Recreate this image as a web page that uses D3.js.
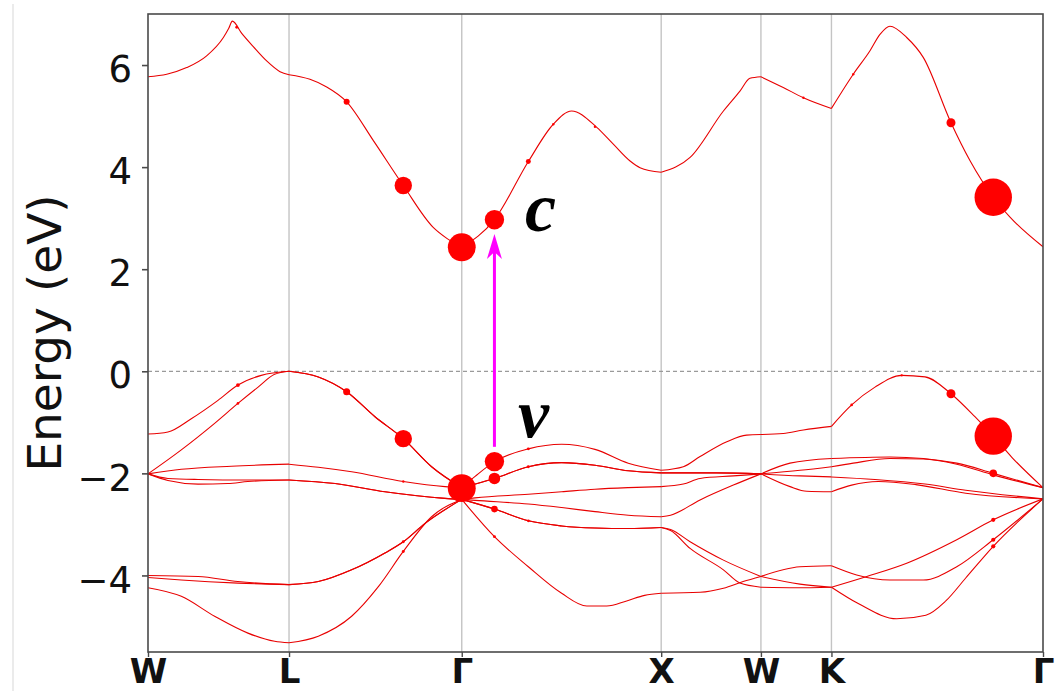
<!DOCTYPE html>
<html>
<head>
<meta charset="utf-8">
<script src="https://cdn.jsdelivr.net/npm/d3@7"></script>
<style>
  html, body { margin: 0; padding: 0; background: #fff; }
  svg { display: block; }
</style>
</head>
<body>
<svg id="chart" width="1057" height="691"></svg>
<script>
// High-symmetry points of the FCC path; k is the cumulative path length in 2π/a
const kLabels = ["W", "L", "Γ", "X", "W", "K", "Γ"];
const kTicks = [0, 0.7071, 1.5731, 2.5731, 3.0731, 3.4267, 4.4874];
const energyTicks = [-4, -2, 0, 2, 4, 6];
const energyRange = [-5.5, 7.0];

// Bands as [k, E (eV)] samples
const conductionBand = [
  [0, 5.77], [0.094, 5.82], [0.194, 5.95], [0.294, 6.18], [0.378, 6.54], [0.405, 6.72], [0.423, 6.86], [0.470, 6.62], [0.528, 6.36], [0.595, 6.08], [0.662, 5.87], [0.7071, 5.81],
  [0.812, 5.72], [0.896, 5.57], [0.996, 5.28], [1.130, 4.52], [1.280, 3.64], [1.430, 2.82], [1.500, 2.60], [1.5731, 2.43],
  [1.737, 2.97], [1.907, 4.11], [2.032, 4.84], [2.124, 5.10], [2.250, 4.78], [2.333, 4.45], [2.417, 4.12], [2.467, 3.99], [2.5731, 3.90],
  [2.718, 4.19], [2.885, 5.10], [2.968, 5.49], [3.018, 5.74], [3.0731, 5.77],
  [3.185, 5.56], [3.286, 5.36], [3.4267, 5.15],
  [3.536, 5.82], [3.620, 6.28], [3.670, 6.60], [3.720, 6.76], [3.804, 6.54], [3.887, 6.15], [4.026, 4.87], [4.121, 4.13], [4.238, 3.41], [4.322, 3.02], [4.4874, 2.44]
];
const valence1 = [
  [0, -1.23], [0.100, -1.19], [0.217, -0.93], [0.351, -0.57], [0.451, -0.27], [0.568, -0.08], [0.7071, 0],
  [0.854, -0.11], [0.996, -0.40], [1.138, -0.89], [1.280, -1.32], [1.422, -1.87], [1.5731, -2.28],
  [1.640, -2.06], [1.737, -1.77], [1.907, -1.52], [2.074, -1.43], [2.241, -1.53], [2.408, -1.80], [2.5731, -1.94],
  [2.684, -1.87], [2.768, -1.67], [2.902, -1.38], [3.001, -1.25], [3.0731, -1.24],
  [3.185, -1.22], [3.286, -1.15], [3.4267, -1.08],
  [3.528, -0.66], [3.645, -0.31], [3.779, -0.08], [3.896, -0.11], [4.026, -0.44], [4.146, -0.89], [4.238, -1.27], [4.330, -1.68], [4.4874, -2.28]
];
const valence2 = [
  [0, -2.01], [0.167, -1.54], [0.334, -1.02], [0.451, -0.63], [0.552, -0.31], [0.635, -0.06], [0.7071, 0],
  [0.854, -0.11], [0.996, -0.40], [1.138, -0.89], [1.280, -1.32], [1.422, -1.87], [1.5731, -2.28],
  [1.737, -2.10], [1.907, -1.87], [2.074, -1.79], [2.241, -1.84], [2.408, -1.95], [2.5731, -1.99],
  [2.851, -1.99], [3.0731, -2.01],
  [3.219, -1.80], [3.4267, -1.71],
  [3.720, -1.68], [4.055, -1.80], [4.238, -2.00], [4.4874, -2.28]
];
const valence3 = [
  [0, -2.01], [0.167, -1.92], [0.418, -1.86], [0.7071, -1.82],
  [0.854, -1.88], [1.021, -1.97], [1.280, -2.16], [1.489, -2.26], [1.5731, -2.28],
  [1.737, -2.10], [1.907, -1.87], [2.074, -1.79], [2.241, -1.84], [2.408, -1.95], [2.5731, -1.99],
  [2.851, -1.99], [3.0731, -2.01],
  [3.269, -1.94], [3.4267, -1.87],
  [3.536, -1.80], [3.720, -1.71], [3.887, -1.72], [4.055, -1.82], [4.238, -2.03], [4.4874, -2.28]
];
const valence4 = [
  [0, -2.01], [0.100, -2.10], [0.251, -2.12], [0.501, -2.13], [0.7071, -2.13],
  [0.938, -2.20], [1.188, -2.36], [1.489, -2.49], [1.5731, -2.51],
  [1.640, -2.48], [1.907, -2.41], [2.074, -2.36], [2.241, -2.31], [2.408, -2.28], [2.5731, -2.26],
  [2.684, -2.21], [2.768, -2.10], [2.935, -2.05], [3.0731, -2.01],
  [3.269, -2.05], [3.4267, -2.07],
  [3.645, -2.12], [3.896, -2.21], [4.100, -2.33], [4.4874, -2.50]
];
const valence5 = [
  [0, -2.01], [0.100, -2.14], [0.251, -2.21], [0.400, -2.20], [0.501, -2.16], [0.7071, -2.13],
  [0.938, -2.20], [1.188, -2.36], [1.489, -2.49], [1.5731, -2.51],
  [1.640, -2.53], [1.907, -2.60], [2.074, -2.67], [2.241, -2.75], [2.408, -2.82], [2.5731, -2.85],
  [2.620, -2.82], [2.768, -2.52], [2.935, -2.23], [3.0731, -2.01],
  [3.219, -2.26], [3.303, -2.35], [3.4267, -2.36],
  [3.528, -2.23], [3.662, -2.16], [3.850, -2.22], [4.100, -2.39], [4.4874, -2.50]
];
const valence6 = [
  [0, -4.00], [0.251, -4.02], [0.451, -4.12], [0.7071, -4.18],
  [0.854, -4.12], [1.021, -3.89], [1.188, -3.56], [1.280, -3.34], [1.389, -2.98], [1.5731, -2.51],
  [1.737, -2.70], [1.907, -2.93], [2.074, -3.03], [2.241, -3.07], [2.408, -3.08], [2.5731, -3.06],
  [2.620, -3.10], [2.718, -3.34], [2.885, -3.70], [3.0731, -4.02],
  [3.269, -4.17], [3.4267, -4.23],
  [3.561, -4.55], [3.754, -4.85], [3.900, -4.78], [4.000, -4.50], [4.100, -4.05], [4.238, -3.43], [4.4874, -2.50]
];
const valence7 = [
  [0, -4.04], [0.167, -4.09], [0.451, -4.15], [0.7071, -4.18],
  [0.854, -4.12], [1.021, -3.89], [1.188, -3.56], [1.280, -3.34], [1.389, -2.98], [1.5731, -2.51],
  [1.737, -2.70], [1.907, -2.93], [2.074, -3.03], [2.241, -3.07], [2.408, -3.08], [2.5731, -3.06],
  [2.620, -3.12], [2.718, -3.47], [2.885, -3.89], [2.968, -4.15], [3.0731, -4.23],
  [3.250, -4.24], [3.4267, -4.23],
  [3.604, -4.02], [3.804, -3.76], [4.055, -3.30], [4.238, -2.91], [4.4874, -2.50]
];
const valence8 = [
  [0, -4.24], [0.167, -4.41], [0.334, -4.80], [0.501, -5.13], [0.635, -5.29], [0.7071, -5.32],
  [0.854, -5.19], [1.021, -4.80], [1.155, -4.22], [1.280, -3.53], [1.422, -2.85], [1.5731, -2.51],
  [1.737, -3.24], [1.907, -3.83], [2.074, -4.35], [2.200, -4.60], [2.300, -4.60], [2.400, -4.50], [2.490, -4.39], [2.5731, -4.35],
  [2.768, -4.33], [2.885, -4.25], [2.984, -4.12], [3.0731, -4.02],
  [3.269, -3.83], [3.4267, -3.81],
  [3.553, -3.99], [3.720, -4.09], [3.887, -4.09], [4.055, -3.83], [4.238, -3.30], [4.4874, -2.50]
];
const bands = [conductionBand, valence1, valence2, valence3, valence4, valence5, valence6, valence7, valence8];

// Projected weights on the bands: [k, E, weight]
const weights = [
  [0.445, 6.74, 0.006], [0.996, 5.28, 0.025], [1.280, 3.64, 0.21], [1.5731, 2.43, 0.54], [1.737, 2.97, 0.26],
  [1.907, 4.11, 0.017], [2.032, 4.84, 0.003], [2.241, 4.79, 0.003], [3.286, 5.36, 0.003], [3.536, 5.82, 0.004],
  [4.026, 4.87, 0.056], [4.238, 3.41, 0.97],
  [0.451, -0.27, 0.010], [0.451, -0.63, 0.005], [0.996, -0.40, 0.034], [1.280, -1.32, 0.21], [1.5731, -2.29, 0.54],
  [1.737, -1.77, 0.26], [1.737, -2.10, 0.093], [1.737, -2.70, 0.030], [1.737, -3.24, 0.006],
  [1.907, -1.52, 0.006], [1.907, -1.87, 0.006], [1.907, -2.93, 0.005], [1.280, -2.16, 0.003],
  [1.280, -3.34, 0.006], [1.280, -3.53, 0.006],
  [3.528, -0.66, 0.005], [3.779, -0.08, 0.003], [4.026, -0.44, 0.056], [4.238, -1.27, 0.97],
  [4.238, -2.00, 0.040], [4.238, -2.91, 0.012], [4.238, -3.30, 0.012], [4.238, -3.43, 0.012]
];

// Optical transition v → c drawn as an arrow at fixed k
const transitionK = 1.737;
const transitionE = [-1.48, 2.69];
const stateLabels = [
  { text: "c", k: 1.890, E: 2.74 },
  { text: "v", k: 1.855, E: -1.29 }
];

const svg = d3.select("#chart");
const area = { left: 148, top: 14, right: 1043, bottom: 652 };

const x = d3.scaleLinear().domain([kTicks[0], kTicks[kTicks.length - 1]]).range([area.left, area.right]);
const y = d3.scaleLinear().domain(energyRange).range([area.bottom, area.top]);
const radius = d3.scaleSqrt().domain([0, 1]).range([0, 19]);

// faint outer edge of the figure
svg.append("line").attr("x1", 13).attr("x2", 13).attr("y1", 4).attr("y2", 691)
  .attr("stroke", "#e4e4e4").attr("stroke-width", 1.5);

svg.append("defs").append("clipPath").attr("id", "plotClip")
  .append("rect").attr("x", area.left).attr("y", area.top)
  .attr("width", area.right - area.left).attr("height", area.bottom - area.top);

const plot = svg.append("g").attr("clip-path", "url(#plotClip)");

// vertical separators at the interior high-symmetry points
plot.selectAll("line.kline").data(kTicks.slice(1, -1)).join("line")
  .attr("class", "kline")
  .attr("x1", d => x(d)).attr("x2", d => x(d))
  .attr("y1", area.top).attr("y2", area.bottom)
  .attr("stroke", "#c4c4c4").attr("stroke-width", 1.4);

// Fermi level
plot.append("line")
  .attr("x1", area.left).attr("x2", area.right)
  .attr("y1", y(0)).attr("y2", y(0))
  .attr("stroke", "#9a9a9a").attr("stroke-width", 1.2)
  .attr("stroke-dasharray", "4,3");

// bands: each path segment drawn separately so kinks at the symmetry points stay sharp
const line = d3.line().x(d => x(d[0])).y(d => y(d[1])).curve(d3.curveMonotoneX);
const eps = 1e-6;
bands.forEach(band => {
  for (let i = 0; i < kTicks.length - 1; i++) {
    const seg = band.filter(p => p[0] >= kTicks[i] - eps && p[0] <= kTicks[i + 1] + eps);
    if (seg.length < 2) continue;
    plot.append("path")
      .attr("d", line(seg))
      .attr("fill", "none")
      .attr("stroke", "#e80000")
      .attr("stroke-width", 1.1);
  }
});

// projected weights
plot.selectAll("circle.w").data(weights).join("circle")
  .attr("class", "w")
  .attr("cx", d => x(d[0])).attr("cy", d => y(d[1]))
  .attr("r", d => Math.max(1.2, radius(d[2])))
  .attr("fill", "#ff0000");

// transition arrow
const ax = x(transitionK);
const y0 = y(transitionE[0]);
const y1 = y(transitionE[1]);
svg.append("line")
  .attr("x1", ax).attr("x2", ax).attr("y1", y0).attr("y2", y1 + 16)
  .attr("stroke", "#ff00ff").attr("stroke-width", 3);
svg.append("path")
  .attr("d", `M${ax},${y1} L${ax + 7.5},${y1 + 25} L${ax},${y1 + 18} L${ax - 7.5},${y1 + 25} Z`)
  .attr("fill", "#ff00ff");

svg.selectAll("text.state").data(stateLabels).join("text")
  .attr("class", "state")
  .attr("x", d => x(d.k)).attr("y", d => y(d.E))
  .attr("font-family", "'Liberation Serif', 'DejaVu Serif', serif")
  .attr("font-style", "italic").attr("font-weight", "bold")
  .attr("font-size", 70)
  .attr("fill", "#000")
  .text(d => d.text);

// frame
svg.append("rect")
  .attr("x", area.left).attr("y", area.top)
  .attr("width", area.right - area.left).attr("height", area.bottom - area.top)
  .attr("fill", "none").attr("stroke", "#4a4a4a").attr("stroke-width", 1.6);

// y axis
const yAxis = svg.append("g").attr("transform", `translate(${area.left},0)`)
  .call(d3.axisLeft(y).tickValues(energyTicks).tickSize(6).tickPadding(10)
    .tickFormat(d => d < 0 ? "\u2212" + Math.abs(d) : String(d)));
yAxis.select(".domain").remove();
yAxis.selectAll(".tick line").attr("stroke", "#4a4a4a").attr("stroke-width", 1.6);
yAxis.selectAll(".tick text")
  .attr("font-family", "'DejaVu Sans', sans-serif").attr("font-size", 37)
  .attr("fill", "#111").attr("dy", "0.45em");

// x axis
const xAxis = svg.append("g").attr("transform", `translate(0,${area.bottom})`)
  .call(d3.axisBottom(x).tickValues(kTicks).tickSize(5).tickPadding(5)
    .tickFormat((d, i) => kLabels[i]));
xAxis.select(".domain").remove();
xAxis.selectAll(".tick line").attr("stroke", "#4a4a4a").attr("stroke-width", 1.4);
xAxis.selectAll(".tick text")
  .attr("font-family", "'DejaVu Sans', sans-serif").attr("font-size", 34)
  .attr("font-weight", "bold").attr("fill", "#111")
  .attr("y", 31).attr("dy", null);

// y label
svg.append("text")
  .attr("transform", `translate(61,${(area.top + area.bottom) / 2}) rotate(-90)`)
  .attr("text-anchor", "middle")
  .attr("font-family", "'DejaVu Sans', sans-serif")
  .attr("font-size", 47)
  .attr("fill", "#111")
  .text("Energy (eV)");
</script>
</body>
</html>
